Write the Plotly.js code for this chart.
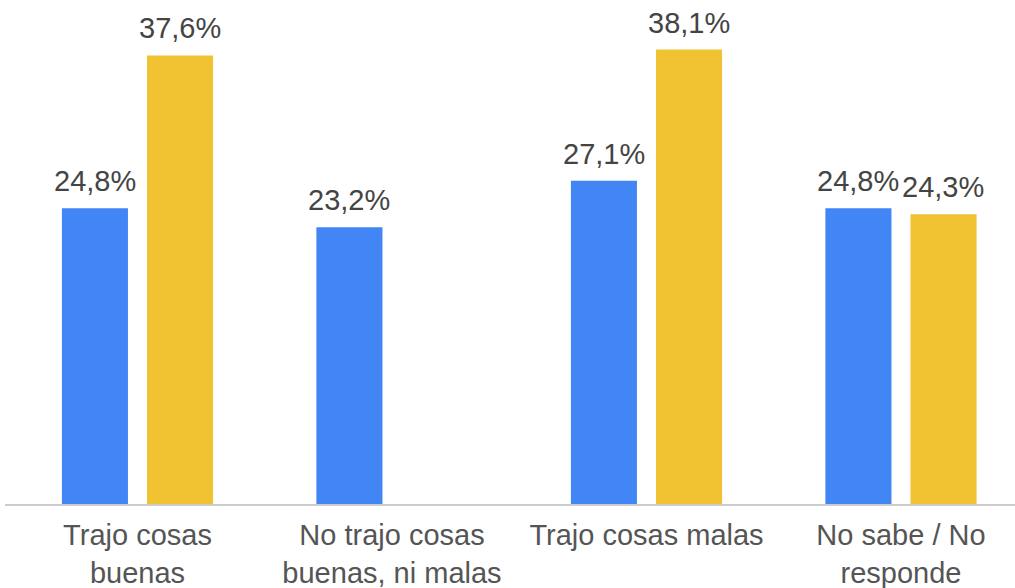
<!DOCTYPE html>
<html>
<head>
<meta charset="utf-8">
<script src="https://cdn.plot.ly/plotly-3.0.1.min.js"></script>
<style>html,body{margin:0;padding:0;background:#fff;}#chart{width:1015px;height:588px;}</style>
</head>
<body>
<div id="chart"></div>
<script>
const categories = ["Trajo cosas<br>buenas", "No trajo cosas<br>buenas, ni malas", "Trajo cosas malas", "No sabe / No<br>responde"];
const seriesNames = ["Serie 1", "Serie 2"];
const blueValues = [24.8, 23.2, 27.1, 24.8];
const yellowValues = [37.6, null, 38.1, 24.3];

const colors = ["#4285f4", "#f1c232"];
const allSeries = [blueValues, yellowValues];
const FONT = "Liberation Sans, Arial, sans-serif";

const traces = allSeries.map((vals, j) => ({
  type: "bar",
  name: seriesNames[j],
  x: categories,
  y: vals,
  marker: {color: colors[j]},
  hoverinfo: "skip"
}));

const slotOffset = 0.167;
const fmt = v => v.toFixed(1).replace(".", ",") + "%";
const annotations = [];
allSeries.forEach((vals, j) => {
  vals.forEach((v, i) => {
    if (v === null) return;
    annotations.push({
      x: i + (j === 0 ? -slotOffset : slotOffset),
      y: v,
      xref: "x", yref: "y",
      text: fmt(v),
      showarrow: false,
      yanchor: "bottom",
      yshift: 9,
      font: {family: FONT, size: 29, color: "#444444"}
    });
  });
});

const layout = {
  width: 1015, height: 588,
  margin: {l: 5, r: 0, t: 0, b: 84},
  paper_bgcolor: "#ffffff",
  plot_bgcolor: "#ffffff",
  showlegend: false,
  barmode: "group",
  bargap: 0.331,
  bargroupgap: 0.224,
  separators: ",.",
  xaxis: {
    type: "category",
    range: [-0.5206, 3.448],
    showline: true,
    linecolor: "#cccccc",
    linewidth: 2,
    showgrid: false,
    zeroline: false,
    ticks: "",
    ticklabelstandoff: 4,
    tickfont: {family: FONT, size: 29, color: "#555555"},
    fixedrange: true
  },
  yaxis: {
    range: [0, 42.25],
    visible: false,
    showgrid: false,
    zeroline: false,
    fixedrange: true
  },
  annotations: annotations
};

Plotly.newPlot("chart", traces, layout, {displayModeBar: false, staticPlot: true});
</script>
</body>
</html>
